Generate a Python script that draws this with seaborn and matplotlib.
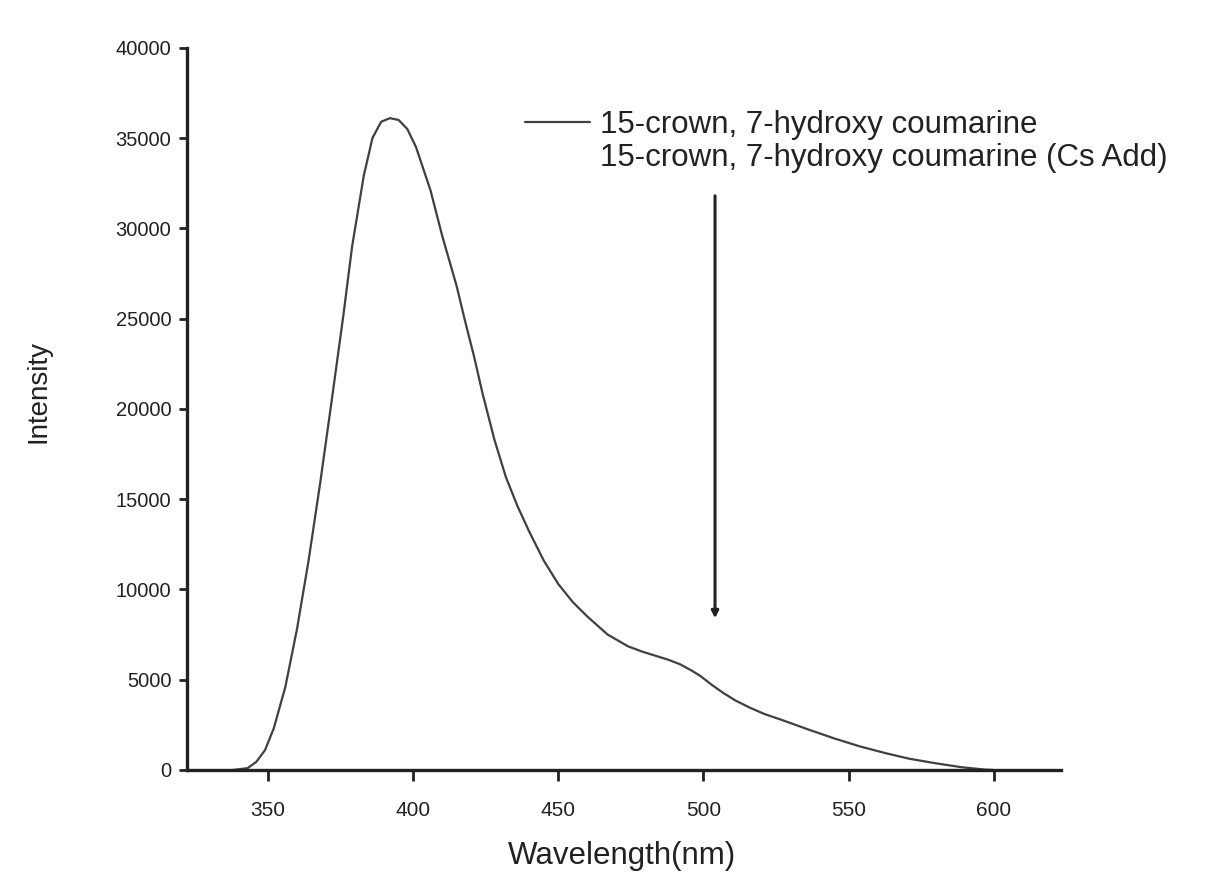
import matplotlib
matplotlib.use("Agg")
import matplotlib.pyplot as plt
import seaborn as sns
import pandas as pd
from matplotlib.lines import Line2D

# emission spectrum
wavelength = [338, 343, 346, 349, 352, 356, 360, 364, 368, 372, 376, 379, 383,
              386, 389, 392, 395, 398, 401, 406, 410, 415, 418, 421, 424, 428,
              432, 436, 440, 445, 450, 455, 460, 467, 474, 479, 484, 488, 492,
              496, 499, 503, 507, 511, 516, 521, 527, 536, 545, 554, 563, 571,
              580, 589, 597, 600]
intensity = [0, 100, 450, 1100, 2300, 4600, 7800, 11600, 15900, 20500, 25200,
             29000, 32900, 35000, 35900, 36100, 36000, 35500, 34500, 32100, 29600,
             26800, 24800, 22900, 20800, 18300, 16200, 14600, 13200, 11600, 10300,
             9300, 8500, 7500, 6850, 6550, 6300, 6100, 5850, 5500, 5200, 4700,
             4250, 3850, 3450, 3100, 2770, 2250, 1750, 1300, 920, 620, 370, 150,
             20, 0]

series_labels = ["15-crown, 7-hydroxy coumarine",
                 "15-crown, 7-hydroxy coumarine (Cs Add)"]
x_ticks = [350, 400, 450, 500, 550, 600]
y_ticks = [0, 5000, 10000, 15000, 20000, 25000, 30000, 35000, 40000]

# arrow marking the drop after Cs addition
arrow_x = 504
arrow_from = 31800
arrow_to = 8400

sns.set_theme(style="ticks")
plt.rcParams["font.family"] = ["Liberation Sans", "DejaVu Sans"]

df = pd.DataFrame({"Wavelength": wavelength, "Intensity": intensity})

fig = plt.figure(figsize=(12.12, 8.84), dpi=100)
ax = fig.add_axes([0.154, 0.129, 0.721, 0.817])

sns.lineplot(data=df, x="Wavelength", y="Intensity", ax=ax,
             color="#404040", linewidth=1.6)

ax.annotate("", xy=(arrow_x, arrow_to), xytext=(arrow_x, arrow_from),
            arrowprops=dict(arrowstyle="-|>", color="#222222", lw=2.2,
                            mutation_scale=10, shrinkA=0, shrinkB=0))

ax.set_xlim(322, 623)
ax.set_ylim(0, 40000)
ax.set_xticks(x_ticks)
ax.set_yticks(y_ticks)
ax.tick_params(axis="x", labelsize=15, length=8, width=2, pad=14, colors="#222222")
ax.tick_params(axis="y", labelsize=14.5, length=6, width=2, pad=5, colors="#222222")
for s in ["top", "right"]:
    ax.spines[s].set_visible(False)
for s in ["left", "bottom"]:
    ax.spines[s].set_linewidth(2.4)
    ax.spines[s].set_color("#222222")

ax.set_xlabel("Wavelength(nm)", fontsize=22.5, color="#222222")
ax.set_ylabel("Intensity", fontsize=20, color="#222222")
ax.xaxis.set_label_coords(0.498, -0.098)
ax.yaxis.set_label_coords(-0.155, 0.524)

handles = [Line2D([0], [0], color="#404040", lw=1.6),
           Line2D([0], [0], color="none", lw=1.6)]
ax.legend(handles, series_labels, loc="upper left", bbox_to_anchor=(0.387, 0.914),
          frameon=False, fontsize=22.5, handlelength=2.1, handletextpad=0.3,
          labelspacing=0.1, borderpad=0, borderaxespad=0, labelcolor="#222222")

fig.savefig("out.png", dpi=100)
plt.close(fig)
